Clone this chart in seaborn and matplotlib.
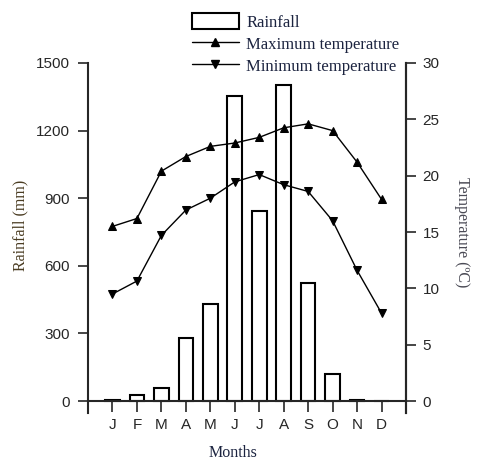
import numpy as np
import pandas as pd
import seaborn as sns
import matplotlib.pyplot as plt
from matplotlib.patches import Patch
from matplotlib.lines import Line2D

months = ['J', 'F', 'M', 'A', 'M', 'J', 'J', 'A', 'S', 'O', 'N', 'D']
rainfall = [5, 25, 60, 281, 429, 1355, 843, 1401, 522, 118, 3, 0]
max_temp = [15.5, 16.2, 20.4, 21.7, 22.6, 22.9, 23.4, 24.25, 24.6, 24.0, 21.2, 17.9]
min_temp = [9.5, 10.65, 14.7, 16.95, 18.0, 19.45, 20.1, 19.2, 18.6, 16.0, 11.6, 7.8]

df = pd.DataFrame({'idx': range(12), 'rain': rainfall,
                   'tmax': max_temp, 'tmin': min_temp})

sns.set_theme(style='ticks')
plt.rcParams['font.family'] = ['Liberation Sans', 'DejaVu Sans']

serif = ['Liberation Serif', 'DejaVu Serif']
lw = 1.5
ms = 5.5

fig = plt.figure(figsize=(4.95, 4.7), dpi=100)
ax = fig.add_axes([88/495, 57/470, 318/495, 350/470])

sns.barplot(data=df, x='idx', y='rain', ax=ax, color='white',
            edgecolor='black', linewidth=1.5, width=0.6, saturation=1)
ax.set_xlim(-1, 12)
ax.set_ylim(-53, 1500)
ax.set_yticks([0, 300, 600, 900, 1200, 1500])
ax.set_xticks(range(12))
ax.set_xticklabels(months)
ax.spines['top'].set_visible(False)
ax.spines['bottom'].set_position(('data', 0))
for s in ['left', 'bottom', 'right']:
    ax.spines[s].set_linewidth(lw)
ax.tick_params(axis='x', direction='out', length=8, width=1.2, pad=4,
               labelsize=11)
ax.tick_params(axis='y', direction='out', length=7, width=1.2, pad=6,
               labelsize=11)
ax.set_xlabel('')
ax.set_ylabel('')
fig.text(20/495, 1 - 225/470, 'Rainfall (mm)', family=serif, fontsize=11.5,
         color='#4a3c22', rotation=90, ha='center', va='center')
fig.text(233/495, 1 - 453/470, 'Months', family=serif, fontsize=11.5,
         color='#1c2440', ha='center', va='center')

ax2 = ax.twinx()
sns.lineplot(data=df, x='idx', y='tmax', ax=ax2, color='black', lw=1,
             marker='^', markersize=ms, markeredgecolor='black')
sns.lineplot(data=df, x='idx', y='tmin', ax=ax2, color='black', lw=1,
             marker='v', markersize=ms, markeredgecolor='black')
ax2.set_ylim(-53/50, 30)
ax2.set_yticks([0, 5, 10, 15, 20, 25, 30])
ax2.spines['top'].set_visible(False)
ax2.spines['bottom'].set_visible(False)
ax2.spines['left'].set_visible(False)
ax2.spines['right'].set_linewidth(lw)
ax2.tick_params(axis='y', direction='out', length=7, width=1.2, pad=5,
                labelsize=11)
ax2.set_xlabel('')
ax2.set_ylabel('')
fig.text(462/495, 1 - 232/470, 'Temperature (ºC)', family=serif,
         fontsize=11.5, color='#4a4a55', rotation=270,
         ha='center', va='center')

handles = [Patch(facecolor='white', edgecolor='black', linewidth=1.5),
           Line2D([], [], color='black', lw=1, marker='^', markersize=ms),
           Line2D([], [], color='black', lw=1, marker='v', markersize=ms)]
labels = ['Rainfall', 'Maximum temperature', 'Minimum temperature']
fig.legend(handles, labels, loc='upper left',
           bbox_to_anchor=(192/495, 1 - 13/470), frameon=False,
           prop={'family': serif, 'size': 12}, labelcolor='#1c2440',
           handlelength=2.8, handleheight=1.1, handletextpad=0.45,
           labelspacing=0.28, borderpad=0, borderaxespad=0)

fig.savefig('out.png', dpi=100)
